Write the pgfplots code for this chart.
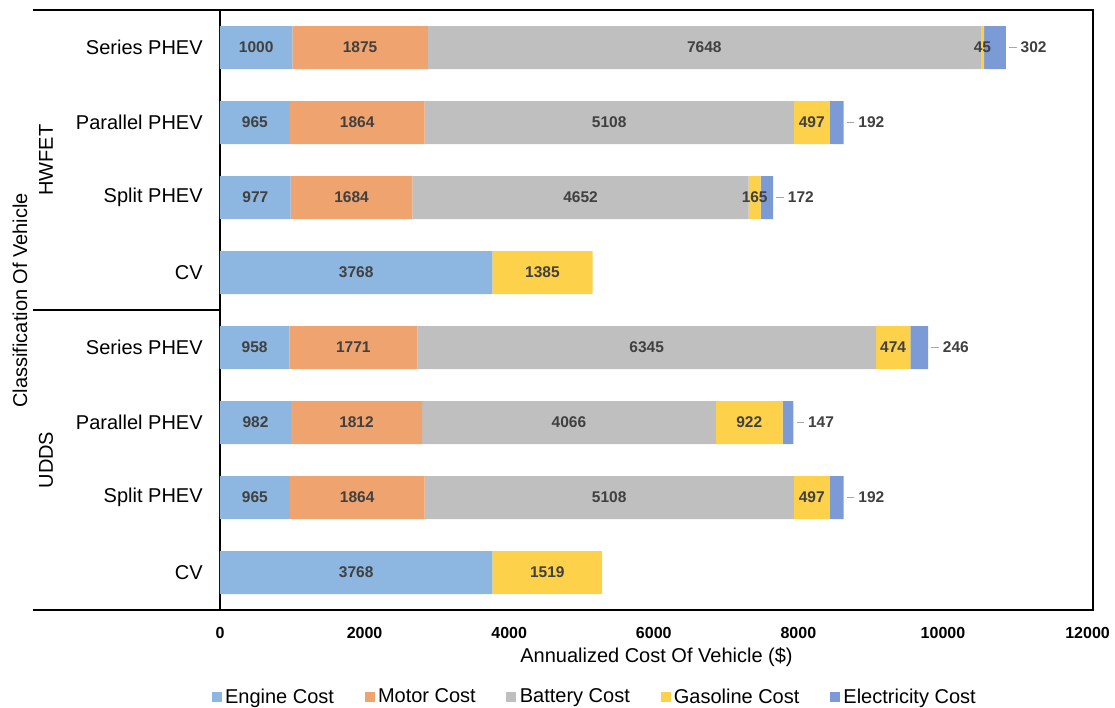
\documentclass[border=0pt]{standalone}
\usepackage{fontspec}
\setmainfont{Liberation Sans}
\usepackage{pgfplots}
\usepackage{pgfplotstable}
\pgfplotsset{compat=1.18}

\definecolor{engine}{HTML}{8DB7E0}
\definecolor{motor}{HTML}{EFA36E}
\definecolor{battery}{HTML}{BFBFBF}
\definecolor{gasoline}{HTML}{FDD14A}
\definecolor{elec}{HTML}{7C9BD6}
\definecolor{lbl}{HTML}{404040}
\definecolor{leader}{HTML}{A6A6A6}

\pgfkeys{/pgf/number format/.cd, 1000 sep={}, assume math mode=true}

% rows 0-3 HWFET, 4-7 UDDS
\pgfplotstableread{
pos engine motor battery gas elec
0 1000 1875 7648 45 302
1 965 1864 5108 497 192
2 977 1684 4652 165 172
3 3768 0 0 1385 0
4 958 1771 6345 474 246
5 982 1812 4066 922 147
6 965 1864 5108 497 192
7 3768 0 0 1519 0
}\costs

\pgfplotsset{
  base/.style={
    scale only axis, width=523.8pt, height=360pt,
    xmin=0, xmax=12075, ymin=-0.5, ymax=7.5, y dir=reverse,
    clip=false,
  },
  sq/.style={legend image code/.code={\fill[##1] (0pt,-3pt) rectangle (6pt,3pt);}},
  lab/.style={draw=none, mark=none, point meta=\thisrow{#1},
    nodes near coords={\pgfmathfloatifflags{\pgfplotspointmeta}{0}{}{\pgfmathprintnumber{\pgfplotspointmeta}}},
    every node near coord/.append style={font=\fontsize{9.3}{11}\selectfont\bfseries, text=lbl, anchor=center}},
}

\begin{document}
\begin{tikzpicture}
\path[use as bounding box] (-132pt,-58.8pt) rectangle (537pt,366pt);
\begin{axis}[base,
  xbar stacked, bar width=25.8pt,
  axis line style={line width=0.9pt},
  tick style={draw=none}, major tick length=0pt,
  scaled x ticks=false,
  xtick={0,2000,...,12000},
  ytick={0,...,7},
  yticklabels={Series PHEV, Parallel PHEV, Split PHEV, CV, Series PHEV, Parallel PHEV, Split PHEV, CV},
  xticklabel style={font=\fontsize{9.6}{11}\selectfont\bfseries, inner sep=0pt, anchor=north, yshift=-9.9pt},
  yticklabel style={font=\fontsize{12}{14}\selectfont, inner sep=0pt, anchor=east, xshift=-10.2pt},
  xlabel={Annualized Cost Of Vehicle (\$)},
  xlabel style={at={(axis description cs:0.5,0)}, anchor=base, yshift=-31.2pt, inner sep=0pt, font=\fontsize{12}{14}\selectfont},
  legend columns=-1,
  legend style={at={(axis description cs:0.43,0)}, anchor=north, yshift=-45pt, draw=none, inner sep=0pt,
    font=\fontsize{12}{14}\selectfont, /tikz/every even column/.append style={column sep=16.4pt}},
]
\addplot[fill=engine, draw=none, sq] table[x=engine, y=pos]{\costs};
\addplot[fill=motor, draw=none, sq] table[x=motor, y=pos]{\costs};
\addplot[fill=battery, draw=none, sq] table[x=battery, y=pos]{\costs};
\addplot[fill=gasoline, draw=none, sq] table[x=gas, y=pos]{\costs};
\addplot[fill=elec, draw=none, sq] table[x=elec, y=pos]{\costs};
\legend{Engine Cost, Motor Cost, Battery Cost, Gasoline Cost, Electricity Cost}

\draw[line width=0.9pt] (rel axis cs:0,0) -- ++(-112pt,0pt);
\draw[line width=0.9pt] (rel axis cs:0,1) -- ++(-112pt,0pt);
\draw[line width=0.9pt] (axis cs:0,3.5) -- ++(-112pt,0pt);
\node[rotate=90, font=\fontsize{12}{14}\selectfont] at ([xshift=-104.4pt]axis cs:0,1.5) {HWFET};
\node[rotate=90, font=\fontsize{12}{14}\selectfont] at ([xshift=-104.4pt]axis cs:0,5.5) {UDDS};
\node[rotate=90, font=\fontsize{12}{14}\selectfont] at ([xshift=-120pt]axis cs:0,3.37) {Classification Of Vehicle};
\end{axis}

\begin{axis}[base, hide axis]
\addplot[lab=engine] table[x expr={\thisrow{engine}/2}, y=pos]{\costs};
\addplot[lab=motor] table[x expr={\thisrow{engine}+\thisrow{motor}/2}, y=pos]{\costs};
\addplot[lab=battery] table[x expr={\thisrow{engine}+\thisrow{motor}+\thisrow{battery}/2}, y=pos]{\costs};
\addplot[lab=gas] table[x expr={\thisrow{engine}+\thisrow{motor}+\thisrow{battery}+\thisrow{gas}/2}, y=pos]{\costs};
\addplot[lab=elec,
  nodes near coords={\pgfmathfloatifflags{\pgfplotspointmeta}{0}{}{{\color{leader}\rule[0.55ex]{4.5pt}{0.7pt}}\hspace{2.4pt}\pgfmathprintnumber{\pgfplotspointmeta}}},
  every node near coord/.append style={anchor=west, inner sep=0pt, xshift=1.8pt}]
  table[x expr={\thisrow{engine}+\thisrow{motor}+\thisrow{battery}+\thisrow{gas}+\thisrow{elec}}, y=pos]{\costs};
\end{axis}
\end{tikzpicture}
\end{document}
